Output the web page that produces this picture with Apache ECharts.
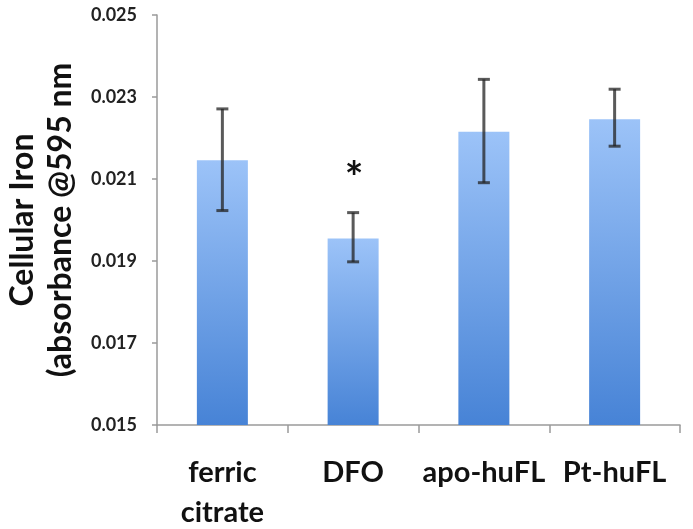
<!DOCTYPE html>
<html>
<head>
<meta charset="utf-8">
<script src="https://cdn.jsdelivr.net/npm/echarts@6/dist/echarts.min.js"></script>
<style>html,body{margin:0;padding:0;background:#fff;}#chart{width:693px;height:529px;}</style>
</head>
<body>
<div id="chart"></div>
<script>
var categories = ['ferric\ncitrate', 'DFO', 'apo-huFL', 'Pt-huFL'];
var values = [0.02146, 0.01955, 0.02215, 0.02246];
var errLow = [0.02023, 0.01898, 0.02091, 0.02180];
var errHigh = [0.02271, 0.02018, 0.02343, 0.02319];
var marks = ['', '*', '', ''];
var yTicks = [0.015, 0.017, 0.019, 0.021, 0.023, 0.025];

var FONT = 'Lato, "Open Sans", sans-serif';
var chart = echarts.init(document.getElementById('chart'));

var errData = categories.map(function (c, i) { return [i, errLow[i], errHigh[i], marks[i]]; });

chart.setOption({
  animation: false,
  grid: { left: 157, right: 13, top: 15, bottom: 104, containLabel: false, outerBoundsMode: 'none' },
  xAxis: {
    type: 'category',
    data: categories,
    axisLine: { lineStyle: { color: '#9a9a9a', width: 1.5 } },
    axisTick: { show: true, length: 8, lineStyle: { color: '#9a9a9a', width: 1.5 } },
    axisLabel: { color: '#111', fontSize: 29, fontWeight: 'bold', fontFamily: FONT, margin: 28, lineHeight: 40, interval: 0 }
  },
  yAxis: {
    type: 'value',
    min: 0.015,
    max: 0.025,
    name: 'Cellular Iron\n(absorbance @595 nm',
    nameLocation: 'middle',
    nameRotate: 90,
    nameGap: 77,
    nameTextStyle: { color: '#111', fontSize: 32, fontWeight: 'bold', fontFamily: FONT, lineHeight: 38 },
    splitLine: { show: false },
    axisLine: { show: true, lineStyle: { color: '#9a9a9a', width: 1.5 } },
    axisTick: { show: true, length: 5, customValues: yTicks, lineStyle: { color: '#9a9a9a', width: 1.5 } },
    axisLabel: {
      customValues: yTicks,
      color: '#222', fontSize: 18, fontWeight: 'bold', fontFamily: FONT, margin: 20,
      formatter: function (v) { return v.toFixed(3); }
    }
  },
  series: [
    {
      type: 'bar',
      data: values,
      barWidth: '39%',
      itemStyle: {
        color: new echarts.graphic.LinearGradient(0, 0, 0, 1, [
          { offset: 0, color: '#9cc3f8' },
          { offset: 1, color: '#4783d6' }
        ])
      }
    },
    {
      type: 'custom',
      data: errData,
      z: 10,
      renderItem: function (params, api) {
        var x = api.value(0);
        var lo = api.coord([x, api.value(1)]);
        var hi = api.coord([x, api.value(2)]);
        var hw = 6;
        var st = { stroke: 'rgba(35,35,35,0.75)', lineWidth: 3 };
        var children = [
          { type: 'line', shape: { x1: lo[0], y1: lo[1], x2: hi[0], y2: hi[1] }, style: st },
          { type: 'line', shape: { x1: hi[0] - hw, y1: hi[1], x2: hi[0] + hw, y2: hi[1] }, style: st },
          { type: 'line', shape: { x1: lo[0] - hw, y1: lo[1], x2: lo[0] + hw, y2: lo[1] }, style: st }
        ];
        var m = api.value(3);
        if (m) {
          children.push({ type: 'text', style: { text: m, x: hi[0] + 1, y: hi[1] - 34, align: 'center', verticalAlign: 'middle', fill: '#111', font: 'bold 44px ' + FONT } });
        }
        return { type: 'group', children: children };
      }
    }
  ]
});
</script>
</body>
</html>
